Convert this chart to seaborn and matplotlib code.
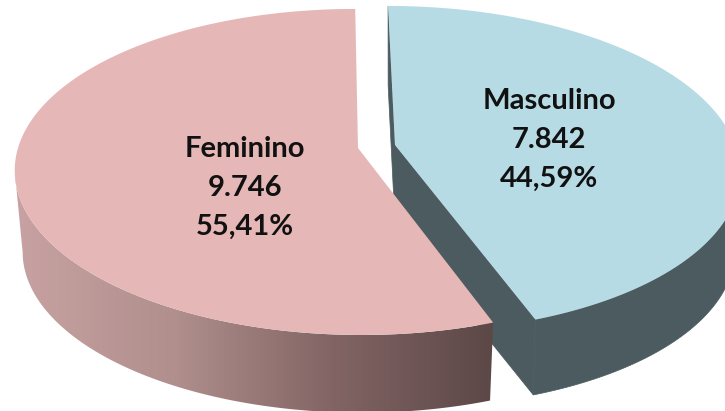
import matplotlib
matplotlib.use("Agg")
import matplotlib.pyplot as plt
from matplotlib.patches import Polygon
import numpy as np
import seaborn as sns

categories = ["Feminino", "Masculino"]
values = [9746, 7842]

# look of the fake 3D pie, in pixels of the 725x411 picture
K = 0.147
RX, RY = 340, 159.5
depth = {"Feminino": 82, "Masculino": 78}
shrink = {"Feminino": 0.977, "Masculino": 0.985}
apex = {"Feminino": (358, 148), "Masculino": (395, 145)}
shear = {"Feminino": 0.02, "Masculino": 0.05}
direction = {"Feminino": -1, "Masculino": 1}
top_color = {"Feminino": "#E5B7B7", "Masculino": "#B7DBE5"}
label_pos = {"Feminino": (245, 188), "Masculino": (549, 140)}

sns.set_theme(style="white")
plt.rcParams["font.family"] = ["Lato", "DejaVu Sans"]

fig = plt.figure(figsize=(7.25, 4.11), dpi=100)
ax = fig.add_axes([0, 0, 1, 1])


def top_ring(cat, angles):
    # angles clockwise from the top of the pie, perspective squeezes the back
    cx, cy = apex[cat]
    u = direction[cat] * np.sin(angles)
    v = np.cos(angles)
    w = 1 + K * v
    dy = RY * v / w
    return np.column_stack([cx + RX * u / w - shear[cat] * dy, cy - dy])


def bottom_of(cat, pts):
    cx, cy = apex[cat]
    s = shrink[cat]
    return np.column_stack([cx + s * (pts[:, 0] - cx), cy + depth[cat] + s * (pts[:, 1] - cy)])


total = sum(values)
spans = {c: 2 * np.pi * v / total for c, v in zip(categories, values)}


def side_polygon(cat):
    # start at the widest point so the silhouette edge runs straight down
    arc = top_ring(cat, np.linspace(0, spans[cat], 400))
    widest = np.argmax(np.abs(arc[:, 0] - apex[cat][0]))
    arc = arc[widest:]
    return np.vstack([arc, bottom_of(cat, arc)[::-1]])


def cut_polygon(cat, angle):
    edge = np.vstack([top_ring(cat, np.array([angle])), [apex[cat]]])
    return np.vstack([edge, bottom_of(cat, edge)[::-1]])


def top_polygon(cat):
    arc = top_ring(cat, np.linspace(0, spans[cat], 300))
    return np.vstack([[apex[cat]], arc])


# masculino sits behind, flat dark sides
dark = "#4C5B60"
for poly in [side_polygon("Masculino"), cut_polygon("Masculino", 0), cut_polygon("Masculino", spans["Masculino"])]:
    ax.add_patch(Polygon(poly, closed=True, fc=dark, ec=dark, lw=0.5))
ax.add_patch(Polygon(top_polygon("Masculino"), closed=True, fc=top_color["Masculino"], ec="none"))

# feminino side has a left to right gradient
side_cmap = sns.blend_palette(["#C8A2A2", "#B08F8D", "#826464", "#5C4847"], as_cmap=True)
side = Polygon(side_polygon("Feminino"), closed=True, fc="none", ec="none")
ax.add_patch(side)
im = ax.imshow(np.linspace(0, 1, 256)[None, :], extent=[15, 493, 411, 150], cmap=side_cmap, aspect="auto", zorder=2)
im.set_clip_path(side)
ax.add_patch(Polygon(top_polygon("Feminino"), closed=True, fc=top_color["Feminino"], ec="none", zorder=3))

ax.set_xlim(0, 725)
ax.set_ylim(411, 0)
ax.axis("off")

for cat, val in zip(categories, values):
    pct = f"{100 * val / total:.2f}".replace(".", ",")
    num = f"{val:,}".replace(",", ".")
    x, y = label_pos[cat]
    ax.text(x, y, f"{cat}\n{num}\n{pct}%", ha="center", va="center", fontsize=21, fontweight="bold",
            color="#111111", linespacing=1.6, zorder=5)

plt.savefig("out.png", dpi=100)
